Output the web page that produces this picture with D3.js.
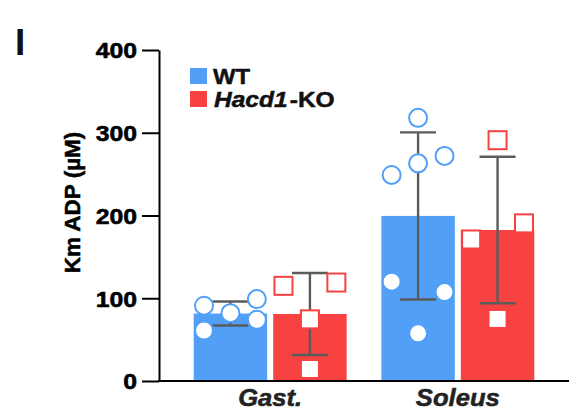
<!DOCTYPE html>
<html>
<head>
<meta charset="utf-8">
<script src="https://cdn.jsdelivr.net/npm/d3@7"></script>
<style>
  html, body { margin: 0; padding: 0; background: #fff; }
  svg { display: block; font-family: "Liberation Sans", Arial, Helvetica, sans-serif; }
  .heavy { paint-order: stroke; stroke-linejoin: round; }
</style>
</head>
<body>
<svg id="chart" width="576" height="414"></svg>
<script>
// ---------- data ----------
const categories = ["Gast.", "Soleus"];
const groups = ["WT", "KO"];
const yTicks = [0, 100, 200, 300, 400];

const meanWT = [81.5, 199.5];
const meanKO = [81, 182.5];
const sdWT = [14.5, 101];
const sdKO = [49.5, 88.5];

const pointsWT_Gast = [91, 82, 99, 61, 74];
const pointsKO_Gast = [115, 119, 74.5, 14.5];
const pointsWT_Soleus = [318, 249, 263, 272, 120, 107.5, 57.6];
const pointsKO_Soleus = [291, 171, 190.5, 75];

// ---------- layout / style ----------
const colWT_Gast = [-1, 0, 1, -1, 1];
const colKO_Gast = [-1, 1, 0, 0];
const colWT_Soleus = [0, -1, 0, 1, -1, 1, 0];
const colKO_Soleus = [0, -1, 1, 0];

const blue = "#529ff8";
const red = "#f84242";
const errColor = "#5b5b5b";

const svg = d3.select("#chart");
const y = d3.scaleLinear().domain([0, 400]).range([381, 50]);
const x0 = d3.scaleBand().domain(categories).range([159, 569]).paddingInner(0.185).paddingOuter(0.185);
const x1 = d3.scaleBand().domain(groups).range([0, x0.bandwidth()]).paddingInner(0.076);

const series = [
  { g: "WT", means: meanWT, sds: sdWT, pts: [pointsWT_Gast, pointsWT_Soleus], cols: [colWT_Gast, colWT_Soleus], color: blue, shape: "circle" },
  { g: "KO", means: meanKO, sds: sdKO, pts: [pointsKO_Gast, pointsKO_Soleus], cols: [colKO_Gast, colKO_Soleus], color: red, shape: "square" }
];

// bars
series.forEach(s => {
  categories.forEach((c, i) => {
    svg.append("rect")
      .attr("x", x0(c) + x1(s.g))
      .attr("y", y(s.means[i]))
      .attr("width", x1.bandwidth())
      .attr("height", y(0) - y(s.means[i]))
      .attr("fill", s.color);
  });
});

// error bars
const capHalf = 18;
series.forEach(s => {
  categories.forEach((c, i) => {
    const cx = x0(c) + x1(s.g) + x1.bandwidth() / 2;
    const hi = y(s.means[i] + s.sds[i]);
    const lo = y(s.means[i] - s.sds[i]);
    const g = svg.append("g").attr("stroke", errColor).attr("stroke-width", 2.4);
    g.append("line").attr("x1", cx).attr("x2", cx).attr("y1", hi).attr("y2", lo);
    g.append("line").attr("x1", cx - capHalf).attr("x2", cx + capHalf).attr("y1", hi).attr("y2", hi);
    g.append("line").attr("x1", cx - capHalf).attr("x2", cx + capHalf).attr("y1", lo).attr("y2", lo);
  });
});

// points
const colOff = x1.bandwidth() * 0.36;
series.forEach(s => {
  categories.forEach((c, i) => {
    const cx = x0(c) + x1(s.g) + x1.bandwidth() / 2;
    s.pts[i].forEach((v, j) => {
      const px = cx + s.cols[i][j] * colOff;
      const py = y(v);
      if (s.shape === "circle") {
        svg.append("circle").attr("cx", px).attr("cy", py).attr("r", 9)
          .attr("fill", "#fff").attr("stroke", s.color).attr("stroke-width", 2);
      } else {
        svg.append("rect").attr("x", px - 9).attr("y", py - 9).attr("width", 18).attr("height", 18)
          .attr("fill", "#fff").attr("stroke", s.color).attr("stroke-width", 2);
      }
    });
  });
});

// y axis
const yAxis = svg.append("g").attr("transform", "translate(159,0)")
  .call(d3.axisLeft(y).tickValues(yTicks).tickSize(17).tickSizeOuter(0));
yAxis.select(".domain").attr("stroke", "#000").attr("stroke-width", 2);
yAxis.selectAll(".tick line").attr("stroke", "#000").attr("stroke-width", 2);
yAxis.selectAll(".tick text")
  .attr("class", "heavy")
  .attr("x", 0).attr("dy", "0.35em")
  .attr("transform", "translate(-22,0) scale(1.1,1)")
  .attr("font-size", 22.5).attr("font-weight", "bold").attr("fill", "#000")
  .attr("stroke", "#000").attr("stroke-width", 0.6)
  .attr("font-family", "'Liberation Sans', Arial, sans-serif");

// x axis
const xAxis = svg.append("g").attr("transform", "translate(0,381)")
  .call(d3.axisBottom(x0).tickSize(0).tickSizeOuter(0));
xAxis.select(".domain").attr("stroke", "#000").attr("stroke-width", 2)
  .attr("d", "M158,0H569");
xAxis.selectAll(".tick text")
  .attr("class", "heavy")
  .attr("y", 0).attr("dy", 0)
  .attr("transform", "translate(0,25) scale(1.09,1)")
  .attr("font-size", 23.5).attr("font-weight", "bold").attr("font-style", "italic")
  .attr("fill", "#222").attr("stroke", "#222").attr("stroke-width", 0.5)
  .attr("font-family", "'Liberation Sans', Arial, sans-serif");

// y label
svg.append("text")
  .attr("class", "heavy")
  .attr("transform", "translate(80,202.5) rotate(-90)")
  .attr("text-anchor", "middle")
  .attr("font-size", 22.5).attr("font-weight", "bold").attr("fill", "#000")
  .attr("stroke", "#000").attr("stroke-width", 0.5)
  .text("Km ADP (µM)");

// panel label
svg.append("text").attr("x", 15).attr("y", 55)
  .attr("font-size", 37).attr("font-weight", "bold").attr("fill", "#111")
  .text("I");

// legend
const legend = svg.append("g");
legend.append("rect").attr("x", 190).attr("y", 68).attr("width", 17).attr("height", 16).attr("fill", blue);
legend.append("rect").attr("x", 190).attr("y", 91).attr("width", 17).attr("height", 16).attr("fill", red);
legend.append("text").attr("class", "heavy").attr("transform", "translate(213,84) scale(1.06,1)")
  .attr("font-size", 22.5).attr("font-weight", "bold").attr("fill", "#111")
  .attr("stroke", "#111").attr("stroke-width", 0.5).text("WT");
const t2 = legend.append("text").attr("class", "heavy").attr("transform", "translate(214,107) scale(1.09,1)")
  .attr("font-size", 22.5).attr("font-weight", "bold").attr("fill", "#111")
  .attr("stroke", "#111").attr("stroke-width", 0.5);
t2.append("tspan").attr("font-style", "italic").text("Hacd1");
t2.append("tspan").attr("dx", 2).text("-KO");
</script>
</body>
</html>
